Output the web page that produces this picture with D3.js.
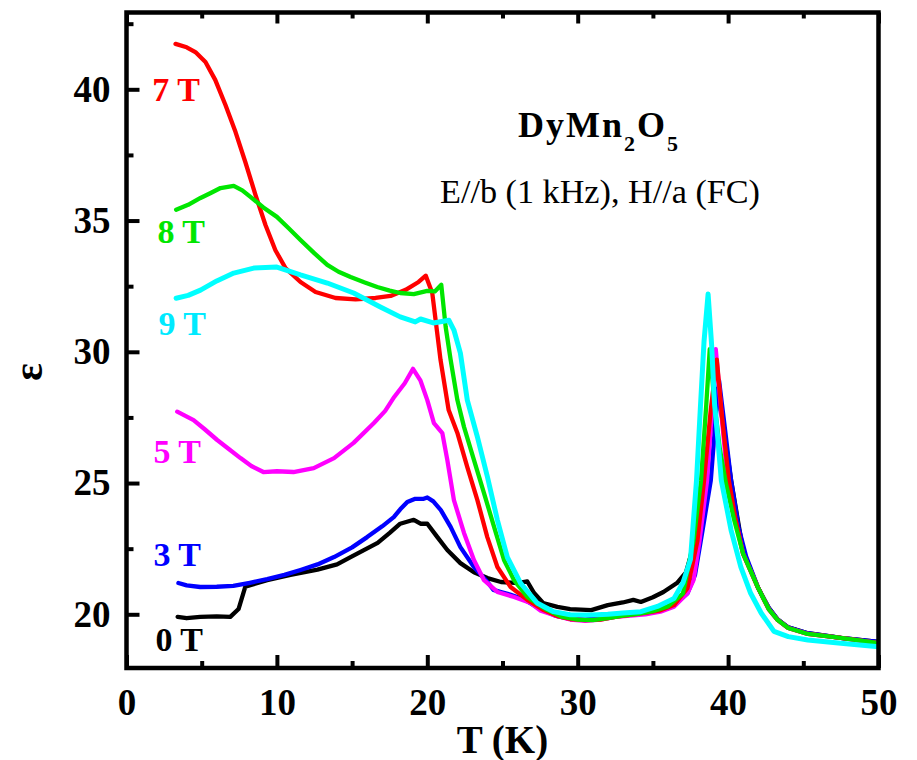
<!DOCTYPE html>
<html>
<head>
<meta charset="utf-8">
<script src="https://cdn.jsdelivr.net/npm/d3@7"></script>
<style>
  body { margin: 0; background: #fff; }
  svg { display: block; }
  text { font-family: "Liberation Serif", "Times New Roman", serif; }
</style>
</head>
<body>
<svg width="917" height="760"></svg>
<script>
// epsilon vs T (K), DyMn2O5, one series per field
const field0T = [[3.4,19.9],[4.0,19.85],[4.9,19.9],[6.0,19.92],[6.9,19.9],[7.45,20.2],[7.9,21.05],[9.35,21.3],[10.9,21.5],[12.7,21.7],[14.0,21.9],[14.9,22.18],[16.7,22.72],[17.5,23.1],[18.2,23.45],[19.1,23.6],[19.55,23.45],[20.0,23.45],[20.67,22.94],[21.33,22.45],[22.2,21.95],[23.1,21.6],[24.0,21.38],[24.9,21.23],[26.0,21.19],[26.65,21.25],[27.1,20.81],[27.7,20.43],[28.65,20.28],[29.5,20.2],[30.9,20.16],[32.0,20.35],[33.0,20.45],[33.7,20.55],[34.2,20.47],[35.0,20.65],[35.7,20.85],[36.6,21.19],[37.2,21.6],[37.9,23.0],[38.4,25.0],[38.9,27.3],[39.3,28.6],[39.65,27.3],[40.2,25.1],[41.0,22.4],[42.0,21.0],[42.7,20.25],[43.3,19.8],[44.0,19.5],[45.3,19.28],[47.5,19.1],[50,18.95]];
const field3T = [[3.45,21.19],[4.0,21.1],[4.9,21.04],[6.0,21.05],[7.1,21.08],[8.2,21.2],[9.35,21.34],[10.5,21.5],[11.57,21.69],[12.7,21.9],[13.8,22.18],[15.0,22.55],[16.0,22.94],[17.0,23.35],[17.77,23.7],[18.2,24.0],[18.67,24.28],[19.2,24.4],[19.76,24.4],[20.0,24.45],[20.4,24.3],[20.9,23.97],[21.55,23.33],[22.2,22.56],[23.1,21.8],[24.0,21.23],[24.4,20.93],[24.9,20.85],[25.5,20.75],[26.5,20.55],[27.5,20.2],[28.5,19.95],[29.5,19.82],[30.5,19.8],[31.5,19.85],[32.5,19.95],[33.5,20.0],[34.5,20.05],[35.5,20.2],[36.5,20.4],[37.3,20.8],[37.8,21.5],[38.3,23.2],[38.85,25.1],[39.15,27.3],[39.4,28.9],[39.7,27.5],[40.2,25.1],[40.7,23.3],[41.2,22.2],[42.0,21.0],[42.7,20.25],[43.3,19.8],[44.0,19.5],[45.3,19.28],[47.5,19.1],[50,18.95]];
const field5T = [[3.37,27.72],[4.46,27.4],[5.2,27.05],[6.03,26.64],[6.8,26.3],[7.58,25.95],[8.3,25.65],[9.1,25.42],[10.0,25.45],[11.1,25.42],[12.45,25.57],[13.8,25.95],[15.1,26.53],[16.45,27.29],[17.2,27.75],[17.8,28.28],[18.5,28.8],[19.05,29.35],[19.55,28.9],[20.0,28.16],[20.44,27.28],[21.0,26.9],[21.33,25.88],[21.77,24.35],[22.44,23.1],[23.1,22.07],[23.77,21.3],[24.66,20.85],[25.77,20.66],[26.87,20.43],[27.5,20.15],[28.4,19.97],[29.5,19.8],[30.5,19.75],[31.5,19.8],[32.5,19.9],[33.5,19.95],[34.5,20.0],[35.5,20.1],[36.4,20.29],[37.3,20.8],[37.7,21.3],[38.1,22.8],[38.6,25.1],[38.95,28.0],[39.18,30.1],[39.5,28.0],[39.9,25.5],[40.2,24.3],[41.0,22.3],[42.0,21.0],[42.7,20.2],[43.3,19.78],[44.0,19.48],[45.3,19.25],[47.5,19.1],[50,18.9]];
const field7T = [[3.26,41.73],[4.0,41.6],[4.58,41.42],[5.25,41.04],[5.9,40.36],[6.58,39.4],[7.25,38.37],[7.9,37.23],[8.58,35.97],[9.24,34.83],[9.9,33.87],[10.57,33.19],[11.57,32.66],[12.57,32.28],[13.9,32.05],[15.23,32.0],[16.56,32.05],[17.56,32.13],[18.56,32.36],[19.42,32.66],[19.9,32.9],[20.33,32.24],[20.88,29.69],[21.42,27.78],[22.0,26.91],[22.66,25.61],[23.33,24.35],[23.99,22.94],[24.66,21.8],[25.54,21.04],[26.65,20.55],[27.74,20.16],[28.65,19.93],[29.5,19.82],[30.5,19.78],[31.5,19.8],[32.5,19.9],[33.5,19.98],[34.5,20.05],[35.5,20.15],[36.4,20.35],[37.3,21.0],[37.96,22.8],[38.4,25.1],[38.85,27.8],[39.25,29.7],[39.6,27.5],[40.05,25.1],[40.5,23.6],[41.0,22.3],[42.0,21.0],[42.7,20.2],[43.3,19.78],[44.0,19.48],[45.3,19.25],[47.5,19.1],[50,18.9]];
const field8T = [[3.3,35.41],[4.1,35.6],[4.92,35.86],[5.6,36.05],[6.25,36.24],[7.13,36.32],[7.7,36.15],[8.24,35.9],[9.1,35.5],[10.0,35.14],[10.8,34.7],[11.57,34.26],[12.5,33.75],[13.35,33.31],[14.1,33.05],[14.9,32.85],[15.8,32.65],[16.67,32.47],[17.5,32.33],[18.2,32.24],[19.1,32.2],[20.0,32.32],[20.5,32.3],[20.93,32.55],[21.22,30.95],[21.55,29.7],[22.0,28.16],[22.44,27.14],[23.1,25.88],[23.77,24.62],[24.44,23.33],[25.1,22.07],[25.77,21.3],[26.65,20.66],[27.98,20.16],[29.0,19.9],[30.0,19.8],[31.0,19.78],[32.0,19.85],[33.0,19.95],[34.0,20.02],[35.0,20.12],[36.0,20.3],[37.0,20.8],[37.7,22.8],[38.2,25.1],[38.55,28.0],[38.78,30.1],[39.1,28.0],[39.45,26.3],[39.85,25.0],[40.4,23.6],[41.0,22.3],[42.0,21.0],[42.7,20.2],[43.3,19.78],[44.0,19.48],[45.3,19.25],[47.5,19.1],[50,18.9]];
const field9T = [[3.3,32.04],[4.1,32.15],[4.92,32.35],[6.0,32.7],[7.13,33.0],[8.46,33.19],[10.0,33.23],[11.57,32.93],[13.35,32.62],[15.1,32.24],[16.88,31.71],[18.2,31.33],[19.2,31.14],[19.55,31.25],[20.4,31.1],[21.44,31.2],[21.77,30.83],[22.2,29.95],[22.66,28.16],[23.33,26.76],[24.0,25.23],[24.66,23.59],[25.32,22.18],[26.2,21.19],[27.3,20.43],[28.4,20.1],[29.5,19.98],[30.9,19.97],[32.0,20.0],[33.0,20.05],[34.2,20.1],[35.3,20.3],[36.4,20.6],[37.0,21.2],[37.5,22.1],[37.9,25.1],[38.15,27.8],[38.4,30.4],[38.67,32.2],[38.9,30.3],[39.1,28.0],[39.3,26.8],[39.55,25.1],[40.2,23.2],[40.85,21.8],[41.5,20.8],[42.2,20.05],[43.05,19.35],[44.0,19.15],[45.3,19.02],[47.5,18.9],[50,18.76]];

const fieldNames = ['0 T', '3 T', '5 T', '7 T', '8 T', '9 T'];
const fieldSeries = [field0T, field3T, field5T, field7T, field8T, field9T];
// label anchor in data units (T, eps)
const labelT = [1.92, 1.79, 1.79, 1.72, 2.06, 2.12];
const labelE = [18.6, 21.84, 25.76, 39.55, 34.15, 30.64];

const xMajor = [0, 10, 20, 30, 40, 50];
const xMinor = [5, 15, 25, 35, 45];
const yMajor = [20, 25, 30, 35, 40];
const yMinor = [22.5, 27.5, 32.5, 37.5, 42.5];

const colors = ['#000000', '#0000ff', '#ff00ff', '#ff0000', '#00e600', '#00ffff'];

const svg = d3.select('svg');
const plotL = 126.5, plotR = 878.5, plotT = 12.5, plotB = 668;

const x = d3.scaleLinear().domain([0, 50]).range([plotL, plotR]);
const y = d3.scaleLinear().domain([17.954, 42.926]).range([plotB, plotT]);

svg.append('defs').append('clipPath').attr('id', 'plot')
  .append('rect').attr('x', plotL).attr('y', plotT)
  .attr('width', plotR - plotL).attr('height', plotB - plotT);

// curves
const line = d3.line().x(d => x(d[0])).y(d => y(d[1]));
svg.append('g').attr('clip-path', 'url(#plot)')
  .selectAll('path')
  .data(fieldSeries)
  .enter().append('path')
  .attr('d', line)
  .attr('fill', 'none')
  .attr('stroke', (d, i) => colors[i])
  .attr('stroke-width', (d, i) => i === 5 ? 5 : 4.3)
  .attr('stroke-linejoin', 'round')
  .attr('stroke-linecap', 'round');

// axes: ticks point inward
function styleAxis(g) {
  g.select('.domain').remove();
  g.selectAll('.tick line').attr('stroke', '#000').attr('stroke-width', 4);
  g.selectAll('.tick text')
    .attr('fill', '#000')
    .attr('font-size', 37)
    .attr('font-weight', 'bold')
    .attr('font-family', '"Liberation Serif", "Times New Roman", serif');
}

svg.append('g').attr('transform', `translate(0,${plotB})`)
  .call(d3.axisBottom(x).tickValues(xMajor).tickSize(-13).tickPadding(21).tickFormat(d3.format('d')))
  .call(styleAxis);
svg.append('g').attr('transform', `translate(0,${plotB})`)
  .call(d3.axisBottom(x).tickValues(xMinor).tickSize(-7).tickFormat(''))
  .call(styleAxis);
svg.append('g').attr('transform', `translate(0,${plotT})`)
  .call(d3.axisTop(x).tickValues(xMajor).tickSize(-11).tickFormat(''))
  .call(styleAxis);
svg.append('g').attr('transform', `translate(0,${plotT})`)
  .call(d3.axisTop(x).tickValues(xMinor).tickSize(-6).tickFormat(''))
  .call(styleAxis);
svg.append('g').attr('transform', `translate(${plotL},0)`)
  .call(d3.axisLeft(y).tickValues(yMajor).tickSize(-13).tickPadding(16).tickFormat(d3.format('d')))
  .call(styleAxis);
svg.append('g').attr('transform', `translate(${plotL},0)`)
  .call(d3.axisLeft(y).tickValues(yMinor).tickSize(-7).tickFormat(''))
  .call(styleAxis);

// frame
svg.append('rect')
  .attr('x', plotL).attr('y', plotT)
  .attr('width', plotR - plotL).attr('height', plotB - plotT)
  .attr('fill', 'none').attr('stroke', '#000').attr('stroke-width', 4.5);

// field labels
svg.append('g').selectAll('text')
  .data(fieldNames)
  .enter().append('text')
  .attr('x', (d, i) => x(labelT[i]))
  .attr('y', (d, i) => y(labelE[i]))
  .attr('fill', (d, i) => colors[i] === '#00ffff' ? '#00eaff' : colors[i])
  .attr('font-size', 34)
  .attr('font-weight', 'bold')
  .text(d => d);

// title
const title = svg.append('text')
  .attr('x', 518).attr('y', 137)
  .attr('font-size', 36).attr('font-weight', 'bold')
  .attr('letter-spacing', 2);
title.append('tspan').text('DyMn');
title.append('tspan').attr('font-size', 22).attr('dy', 14).text('2');
title.append('tspan').attr('dy', -14).text('O');
title.append('tspan').attr('font-size', 22).attr('dy', 14).text('5');

svg.append('text')
  .attr('x', 440).attr('y', 203)
  .attr('font-size', 33)
  .attr('textLength', 320)
  .attr('lengthAdjust', 'spacingAndGlyphs')
  .text('E//b (1 kHz), H//a (FC)');

// axis titles
svg.append('text')
  .attr('x', (plotL + plotR) / 2).attr('y', 753)
  .attr('text-anchor', 'middle')
  .attr('font-size', 39).attr('font-weight', 'bold')
  .text('T (K)');

svg.append('text')
  .attr('transform', 'translate(42,372) rotate(-90)')
  .attr('text-anchor', 'middle')
  .attr('font-size', 42).attr('font-weight', 'bold')
  .text('ε');
</script>
</body>
</html>
